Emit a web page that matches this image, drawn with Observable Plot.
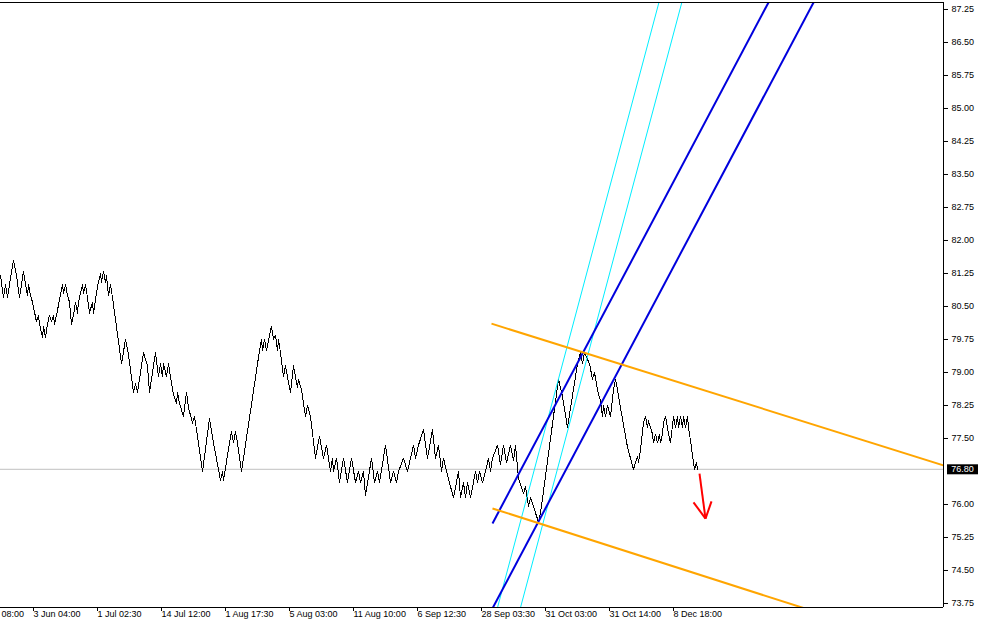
<!DOCTYPE html>
<html><head><meta charset="utf-8">
<script src="https://cdn.jsdelivr.net/npm/d3@7"></script>
<script src="https://cdn.jsdelivr.net/npm/@observablehq/plot@0.6"></script>
<style>
html,body{margin:0;padding:0;background:#fff;}
#chart svg{display:block;}
</style></head><body><div id="chart"></div>
<script>
// bar index (time position) and renko close price at each turning point
const bars = [
  0,3,5,7,9,13,16,19,23,25,
  27,28,30,32,36,38,39,42,43,45,
  47,49,51,53,54,56,62,63,65,67,
  69,71,73,75,77,78,82,83,85,87,
  89,92,93,97,100,101,103,105,106,108,
  110,112,121,125,128,133,135,137,143,147,
  149,155,158,160,162,163,166,168,170,173,
  176,177,179,183,186,188,192,194,196,202,
  209,213,220,222,223,229,231,233,235,237,
  241,259,261,262,264,266,269,271,273,275,
  277,278,280,283,285,287,290,293,297,298,
  301,305,307,310,315,319,323,326,330,332,
  333,336,339,343,347,351,355,358,360,363,
  365,371,374,377,379,385,390,393,396,398,
  403,407,410,413,415,418,423,427,432,435,
  438,441,443,446,453,458,460,463,465,467,
  470,475,477,479,482,485,488,490,492,497,
  500,503,506,510,513,515,518,523,525,528,
  530,533,538,540,558,562,567,577,580,582,
  584,589,592,594,597,600,602,603,605,607,
  610,613,615,617,620,627,633,637,638,640,
  643,645,647,648,650,652,653,655,657,659,
  660,662,663,665,667,668,670,672,673,675,
  677,678,680,682,683,685,687,688,690,693,
  694,696,697
];
const closes = [
  81.20,80.70,81.00,80.70,81.00,81.55,81.20,80.70,81.30,81.00,
  80.75,81.00,80.75,80.60,80.15,80.30,80.10,79.80,80.05,79.80,
  80.10,80.30,80.15,80.30,80.10,80.30,81.00,80.80,81.00,80.75,
  80.60,80.10,80.30,80.60,80.35,80.60,81.00,80.80,81.00,80.70,
  80.35,80.60,80.35,80.95,81.25,81.05,81.30,81.05,81.20,80.75,
  81.00,80.70,79.20,79.75,79.40,78.55,78.75,78.55,79.45,79.15,
  78.55,79.45,78.90,79.20,78.90,79.20,78.90,79.20,78.90,78.50,
  78.30,78.55,78.30,78.00,78.55,78.20,77.85,78.00,77.70,76.75,
  77.95,77.40,76.55,76.75,76.55,77.40,77.65,77.40,77.65,77.40,
  76.75,79.50,79.75,79.50,79.75,79.50,79.85,80.05,79.75,79.85,
  79.50,79.75,79.45,78.90,79.15,78.90,78.55,79.15,78.65,78.85,
  78.60,78.00,78.25,78.00,77.05,77.55,77.05,77.35,76.75,77.05,
  76.75,77.05,76.50,77.05,76.50,77.05,76.50,76.75,76.50,76.75,
  76.20,77.05,76.50,76.75,76.50,77.35,76.50,76.75,76.50,76.75,
  77.05,76.75,77.05,77.35,77.05,77.35,77.70,77.05,77.70,77.05,
  77.35,76.75,77.05,76.75,76.15,76.75,76.15,76.50,76.15,76.50,
  76.15,76.75,76.50,76.75,76.50,76.75,77.05,76.75,77.05,77.35,
  76.90,77.35,76.95,77.35,77.00,77.35,76.60,76.25,76.40,75.95,
  76.15,75.95,75.60,75.80,78.85,78.45,77.75,79.20,79.45,79.20,
  79.45,79.20,78.85,79.00,78.60,78.35,78.00,78.25,78.00,78.25,
  78.00,78.60,78.85,78.60,78.20,77.30,76.80,77.10,76.95,77.25,
  77.85,78.00,77.75,77.90,77.75,77.60,77.40,77.60,77.40,77.60,
  77.40,77.60,77.85,78.00,77.75,77.60,77.40,77.80,78.00,77.75,
  78.00,77.75,78.00,77.75,78.00,77.75,78.00,77.75,77.45,76.95,
  76.80,76.95,76.80
];
const currentPrice = 76.80;
const yTicks = [73.75,74.50,75.25,76.00,77.50,78.25,79.00,79.75,80.50,81.25,82.00,82.75,83.50,84.25,85.00,85.75,86.50,87.25];
const xTickBars = [-31,33,97,161,225,289,353,417,481,545,609,673];
const xTickLabels = ["08:00","3 Jun 04:00","1 Jul 02:30","14 Jul 12:00","1 Aug 17:30","5 Aug 03:00","11 Aug 10:00","6 Sep 12:30","28 Sep 03:30","31 Oct 03:00","31 Oct 14:00","8 Dec 18:00"];
const xDomain = [0, 943];
const yDomain = [73.659, 87.409];
// drawn objects: anchor points in (bar, price)
const orangeChannel = [
  {x1:491, y1:80.11, x2:943, y2:76.89},
  {x1:492, y1:75.91, x2:943, y2:72.63}
];
const blueChannel = [
  {x1:492, y1:75.57, x2:768, y2:87.41},
  {x1:492, y1:73.64, x2:814, y2:87.45}
];
const cyanLines = [
  {x1:490, y1:73.06, x2:665, y2:87.97},
  {x1:515, y1:73.23, x2:690, y2:88.15}
];
const redArrow = [
  {x1:699, y1:76.70, x2:705, y2:75.68},
  {x1:693, y1:76.05, x2:705, y2:75.68},
  {x1:711, y1:76.07, x2:705, y2:75.68}
];

const series = bars.map((b, i) => ({bar: b, close: closes[i]}));
const xLabels = xTickLabels.map((label, i) => ({pos: Math.max(xTickBars[i], 1), label}));

const chart = Plot.plot({
  width: 984,
  height: 624,
  marginLeft: 0,
  marginRight: 41,
  marginTop: 2,
  marginBottom: 17,
  style: {fontFamily: "'Liberation Sans', Arial, sans-serif", fontSize: "9px", background: "#fff", color: "#000"},
  x: {domain: xDomain},
  y: {domain: yDomain},
  marks: [
    Plot.ruleY([currentPrice], {stroke: "#c0c0c0", strokeWidth: 1}),
    Plot.line(series, {x: "bar", y: "close", stroke: "#000", strokeWidth: 1, className: "crisp"}),
    Plot.link(cyanLines, {x1: "x1", y1: "y1", x2: "x2", y2: "y2", stroke: "#00EEFF", strokeWidth: 1, clip: true}),
    Plot.link(blueChannel, {x1: "x1", y1: "y1", x2: "x2", y2: "y2", stroke: "#0000DD", strokeWidth: 2, clip: true}),
    Plot.link(orangeChannel, {x1: "x1", y1: "y1", x2: "x2", y2: "y2", stroke: "#FFA500", strokeWidth: 2, clip: true}),
    Plot.link(redArrow, {x1: "x1", y1: "y1", x2: "x2", y2: "y2", stroke: "#FF0000", strokeWidth: 2, clip: true}),
    Plot.ruleX([xDomain[1]], {stroke: "#000"}),
    Plot.ruleY([yDomain[0], yDomain[1]], {stroke: "#000"}),
    Plot.axisY({anchor: "right", ticks: yTicks, tickFormat: d => d.toFixed(2), tickSize: 4, tickPadding: 4, label: null}),
    Plot.axisX({ticks: xTickBars, tickFormat: () => "", tickSize: 4, label: null}),
    Plot.text(xLabels, {x: "pos", text: "label", frameAnchor: "bottom", dy: 9, textAnchor: "start", fill: "#000"})
  ]
});

document.getElementById("chart").appendChild(chart);
d3.select(chart).selectAll(".crisp path, path.crisp").attr("shape-rendering", "crispEdges");

// current price tag on the right axis
const xs = chart.scale("x"), ys = chart.scale("y");
const px = xs.apply(xDomain[1]) + 4;
const py = ys.apply(currentPrice);
const g = d3.select(chart).append("g");
g.append("rect").attr("x", px).attr("y", py - 4.5).attr("width", 31).attr("height", 10).attr("fill", "#000");
g.append("text").attr("x", px + 15.5).attr("y", py + 0.5).attr("text-anchor", "middle")
  .attr("dominant-baseline", "central").attr("fill", "#fff").attr("font-size", 9).text(currentPrice.toFixed(2));
</script>
</body></html>
